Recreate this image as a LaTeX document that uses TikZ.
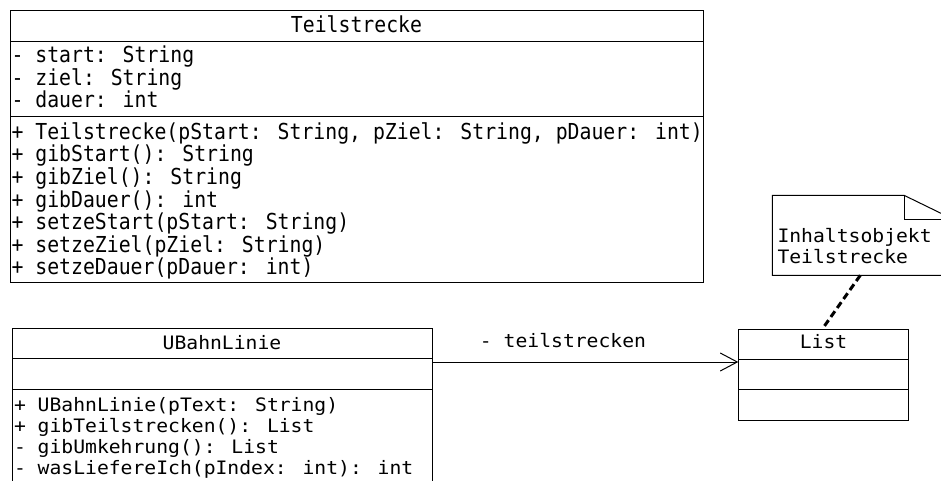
\documentclass[tikz,border=0pt]{standalone}
\usepackage{fontspec}
\usetikzlibrary{arrows.meta,calc}
\newfontfamily\monoA[FakeStretch=0.90]{DejaVu Sans Mono}
\newfontfamily\monoB[FakeStretch=1.065]{DejaVu Sans Mono}
\begin{document}
\begin{tikzpicture}[x=1pt,y=-1pt,line width=1pt,
  box/.style={draw,line width=1pt,anchor=north west,inner sep=0pt,outer sep=0pt},
  rowA/.style={anchor=base west,inner sep=0pt,font=\monoA\fontsize{22}{22}\selectfont},
  rowB/.style={anchor=base west,inner sep=0pt,font=\monoB\fontsize{18.5}{18.5}\selectfont},
  headA/.style={anchor=base,inner sep=0pt,font=\monoA\fontsize{22}{22}\selectfont},
  headB/.style={anchor=base,inner sep=0pt,font=\monoB\fontsize{18.5}{18.5}\selectfont},
  assoc/.style={line width=1pt,-{Straight Barb[length=17pt,width=18pt,line width=1pt]}},
  notelink/.style={line width=3pt,dash pattern=on 7pt off 4pt}
]
\useasboundingbox (0,0) rectangle (941,481);

% ---------- Teilstrecke ----------
\node[box,minimum width=693pt,minimum height=271.3pt] (ts) at (10,11) {};
\draw (ts.west |- 0,41.3) -- (ts.east |- 0,41.3);
\draw (ts.west |- 0,116.3) -- (ts.east |- 0,116.3);
\node[headA] (tsname) at (356.5,33) {Teilstrecke};
\node[rowA] (ta1) at (11,63) {- start: String};
\node[rowA] (ta2) at (11,85.5) {- ziel: String};
\node[rowA] (ta3) at (11,108) {- dauer: int};
\node[rowA] (tm1) at (11,139.5) {+ Teilstrecke(pStart: String, pZiel: String, pDauer: int)};
\node[rowA] (tm2) at (11,162) {+ gibStart(): String};
\node[rowA] (tm3) at (11,184.5) {+ gibZiel(): String};
\node[rowA] (tm4) at (11,207) {+ gibDauer(): int};
\node[rowA] (tm5) at (11,229.5) {+ setzeStart(pStart: String)};
\node[rowA] (tm6) at (11,252) {+ setzeZiel(pZiel: String)};
\node[rowA] (tm7) at (11,274.5) {+ setzeDauer(pDauer: int)};

% ---------- UBahnLinie ----------
\node[box,minimum width=419.7pt,minimum height=180pt] (ub) at (12.3,328) {};
\draw (ub.west |- 0,358.7) -- (ub.east |- 0,358.7);
\draw (ub.west |- 0,389) -- (ub.east |- 0,389);
\node[headB] (ubname) at (222,349.5) {UBahnLinie};
\node[rowB] (um1) at (13.5,411.5) {+ UBahnLinie(pText: String)};
\node[rowB] (um2) at (13.5,432.5) {+ gibTeilstrecken(): List};
\node[rowB] (um3) at (13.5,453.5) {- gibUmkehrung(): List};
\node[rowB] (um4) at (13.5,474.5) {- wasLiefereIch(pIndex: int): int};

% ---------- List ----------
\node[box,minimum width=170.4pt,minimum height=91pt] (ls) at (738.3,329) {};
\draw (ls.west |- 0,359.3) -- (ls.east |- 0,359.3);
\draw (ls.west |- 0,389.3) -- (ls.east |- 0,389.3);
\node[headB] (lsname) at (823.5,348.5) {List};

% ---------- Note ----------
\node[inner sep=0pt,outer sep=0pt,anchor=north west,minimum width=181pt,minimum height=80pt] (note) at (772.3,195.3) {};
\draw ($(note.north west)$) -- ($(note.north west)+(131.7,0)$) -- ($(note.north east)+(0,24)$)
      -- (note.south east) -- (note.south west) -- cycle;
\draw ($(note.north west)+(131.7,0)$) -- ($(note.north west)+(131.7,24)$) -- ($(note.north east)+(0,24)$);
\node[rowB] (nt1) at (777,242.5) {Inhaltsobjekt};
\node[rowB] (nt2) at (777,263.5) {Teilstrecke};

% ---------- connectors ----------
\coordinate (ubout) at (ub.east |- 0,362);
\coordinate (lsin) at (ls.west |- 0,362);
\draw[assoc] (ubout) -- (lsin);
\node[headB] (rolename) at (563,347.5) {- teilstrecken};

\coordinate (notefoot) at ($(note.south west)+(88,0)$);
\coordinate (listtop) at ($(ls.north west)+(84,0)$);
\draw[notelink] (notefoot) -- (listtop);
\end{tikzpicture}
\end{document}
